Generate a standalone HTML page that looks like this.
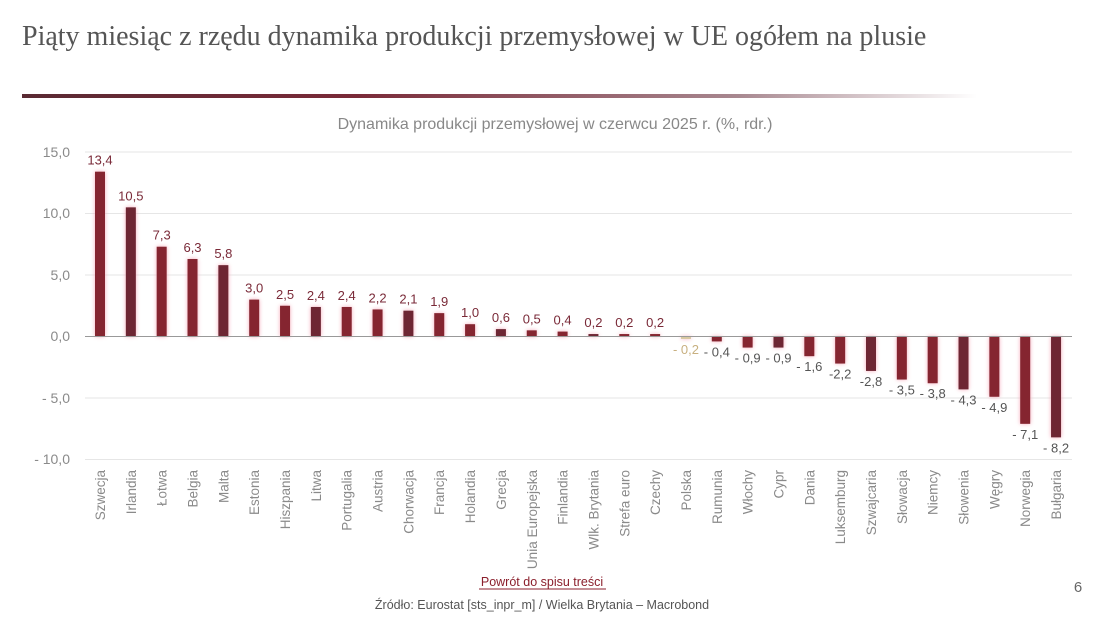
<!DOCTYPE html>
<html><head><meta charset="utf-8"><style>
html,body{margin:0;padding:0;background:#fff;width:1110px;height:618px;overflow:hidden}
svg{display:block}
</style></head><body>
<svg width="1110" height="618" viewBox="0 0 1110 618" xmlns="http://www.w3.org/2000/svg">
<defs>
<linearGradient id="hl" x1="0" x2="1" y1="0" y2="0">
<stop offset="0" stop-color="#5a2a33"/><stop offset="0.35" stop-color="#7a2a38"/><stop offset="0.75" stop-color="#a88890"/><stop offset="1" stop-color="#ffffff"/>
</linearGradient>
</defs>
<text x="22" y="45" font-family="Liberation Serif, serif" font-size="28" fill="#555">Piąty miesiąc z rzędu dynamika produkcji przemysłowej w UE ogółem na plusie</text>
<rect x="22" y="94" width="955" height="4" fill="url(#hl)"/>
<text x="555" y="129" text-anchor="middle" font-family="Liberation Sans, sans-serif" font-size="16" fill="#888">Dynamika produkcji przemysłowej w czerwcu 2025 r. (%, rdr.)</text>
<g stroke="#e6e6e6" stroke-width="1">
<line x1="85" x2="1072" y1="152" y2="152"/><line x1="85" x2="1072" y1="213.5" y2="213.5"/><line x1="85" x2="1072" y1="275" y2="275"/><line x1="85" x2="1072" y1="398" y2="398"/><line x1="85" x2="1072" y1="459.5" y2="459.5"/>
</g>
<g font-family="Liberation Sans, sans-serif" font-size="14" fill="#8a8a8a" text-anchor="end">
<text x="70" y="157">15,0</text><text x="70" y="218">10,0</text><text x="70" y="280">5,0</text><text x="70" y="341">0,0</text><text x="70" y="403">- 5,0</text><text x="70" y="464">- 10,0</text>
</g>
<g id="bars"></g>
<line x1="85" x2="1072" y1="336.5" y2="336.5" stroke="#999" stroke-width="1"/>
<text x="542" y="586" text-anchor="middle" font-family="Liberation Sans, sans-serif" font-size="12.5" fill="#8b1f2c">Powrót do spisu treści</text>
<line x1="479" x2="606" y1="589" y2="589" stroke="#8b1f2c" stroke-width="1"/>
<text x="542" y="609" text-anchor="middle" font-family="Liberation Sans, sans-serif" font-size="12.5" fill="#555">Źródło: Eurostat [sts_inpr_m] / Wielka Brytania – Macrobond</text>
<text x="1078" y="592" text-anchor="middle" font-family="Liberation Sans, sans-serif" font-size="15" fill="#666">6</text>
</svg>
<script>
var d=[["Szwecja",13.4],["Irlandia",10.5],["Łotwa",7.3],["Belgia",6.3],["Malta",5.8],["Estonia",3.0],["Hiszpania",2.5],["Litwa",2.4],["Portugalia",2.4],["Austria",2.2],["Chorwacja",2.1],["Francja",1.9],["Holandia",1.0],["Grecja",0.6],["Unia Europejska",0.5],["Finlandia",0.4],["Wlk. Brytania",0.2],["Strefa euro",0.2],["Czechy",0.2],["Polska",-0.2],["Rumunia",-0.4],["Włochy",-0.9],["Cypr",-0.9],["Dania",-1.6],["Luksemburg",-2.2],["Szwajcaria",-2.8],["Słowacja",-3.5],["Niemcy",-3.8],["Słowenia",-4.3],["Węgry",-4.9],["Norwegia",-7.1],["Bułgaria",-8.2]];
var s='',z=336.5,k=12.3;
for(var i=0;i<d.length;i++){
 var x=100+i*30.84,v=d[i][1],h=Math.abs(v)*k,pol=d[i][0]=="Polska";
 var c=pol?"#d8c8a0":(i%3==1?"#6e2633":"#852530");
 var y=v>=0?z-h:z;
 s+='<rect x="'+(x-5)+'" y="'+y+'" width="10" height="'+Math.max(h,1.5)+'" fill="'+c+'" style="filter:drop-shadow(0 0 2px #f6a8b8)"/>';
 var lab=(v<0?(v<=-2&&v>-3?"-":"- "):"")+Math.abs(v).toFixed(1).replace(".",",");
 var ly=v>=0?y-7:z+h+15;
 s+='<text x="'+x+'" y="'+ly+'" text-anchor="middle" font-family="Liberation Sans, sans-serif" font-size="13" fill="'+(pol?"#c8b080":(v>=0?"#7a2a38":"#555"))+'">'+lab+'</text>';
 s+='<text transform="translate('+(x+5)+',470) rotate(-90)" text-anchor="end" font-family="Liberation Sans, sans-serif" font-size="13.5" fill="#8a8a8a">'+d[i][0]+'</text>';
}
document.getElementById("bars").innerHTML=s;
</script>
</body></html>
